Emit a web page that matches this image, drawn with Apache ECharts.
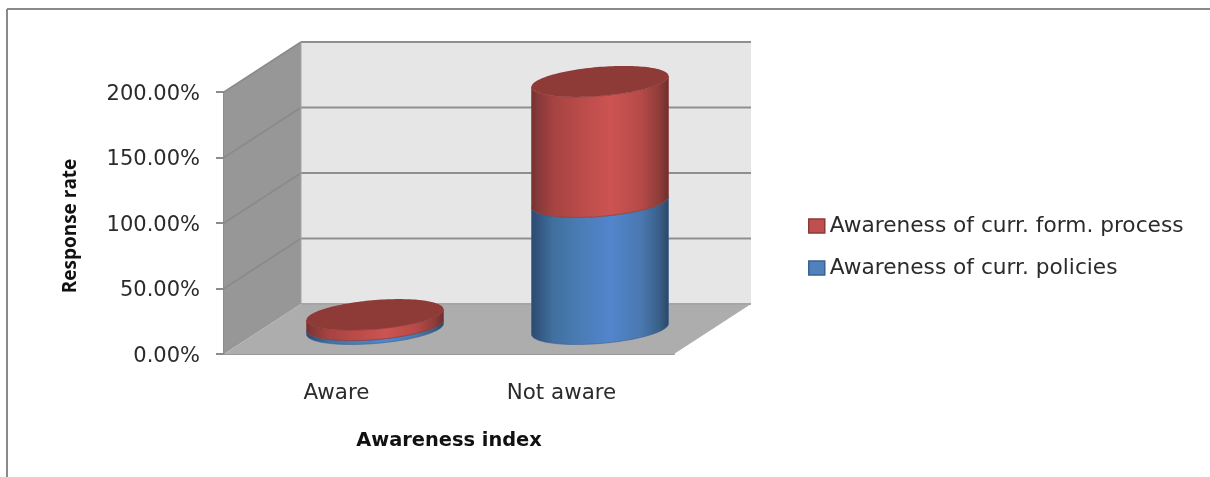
<!DOCTYPE html>
<html>
<head>
<meta charset="utf-8">
<style>html,body{margin:0;padding:0;background:#fff}#chart{width:1210px;height:477px}</style>
<script src="https://cdn.jsdelivr.net/npm/echarts@6/dist/echarts.min.js"></script>
</head>
<body>
<div id="chart"></div>
<script>
// Stacked cylinder chart of awareness responses, in an oblique 3D box.
const categories = ['Aware', 'Not aware'];
const yTicks = [0, 50, 100, 150, 200];
const seriesPolicies = [3, 97];
const seriesFormation = [8, 92];
const namePolicies = 'Awareness of curr. policies';
const nameFormation = 'Awareness of curr. form. process';

// Oblique projection of the box depth, in pixels.
const DEPTH_X = 77, DEPTH_Y = -50;
// Cylinder footprint: half width along x and fraction of the box depth.
const RADIUS_X = 64.2, DEPTH_FRACTION = 0.31;

const chart = echarts.init(document.getElementById('chart'), null, { renderer: 'canvas' });

function poly(points, fill, z2) {
  return { type: 'polygon', shape: { points }, style: { fill }, z2: z2 || 0 };
}
function seg(x1, y1, x2, y2, stroke, w) {
  return { type: 'line', shape: { x1, y1, x2, y2 }, style: { stroke, lineWidth: w }, z2: 2 };
}

// Walls, floor and gridlines, positioned from the value axis.
function renderBox(params, api) {
  const c = params.coordSys;
  const x0 = c.x, x1 = c.x + c.width;
  const yBase = api.coord([0, 0])[1];
  const yTop = api.coord([0, 200])[1];
  const els = [
    poly([[x0 + DEPTH_X, yTop + DEPTH_Y], [x1 + DEPTH_X, yTop + DEPTH_Y], [x1 + DEPTH_X, yBase + DEPTH_Y], [x0 + DEPTH_X, yBase + DEPTH_Y]], '#e6e6e6'),
    poly([[x0, yTop], [x0 + DEPTH_X, yTop + DEPTH_Y], [x0 + DEPTH_X, yBase + DEPTH_Y], [x0, yBase]], '#979797'),
    poly([[x0, yBase], [x0 + DEPTH_X, yBase + DEPTH_Y], [x1 + DEPTH_X, yBase + DEPTH_Y], [x1, yBase]], '#adadad')
  ];
  yTicks.forEach(function (t) {
    const y = api.coord([0, t])[1];
    if (t > 0) {
      els.push(seg(x0 + DEPTH_X, y + DEPTH_Y, x1 + DEPTH_X, y + DEPTH_Y, '#8f8f8f', 2));
      els.push(seg(x0, y, x0 + DEPTH_X, y + DEPTH_Y, '#8a8a8a', 1.5));
    } else {
      els.push(seg(x0 + DEPTH_X, y + DEPTH_Y, x1 + DEPTH_X, y + DEPTH_Y, '#a6a6a6', 2));
    }
  });
  els.push(seg(x0 + DEPTH_X, yTop + DEPTH_Y, x0 + DEPTH_X, yBase + DEPTH_Y, '#a3a3a3', 1));
  return { type: 'group', children: els };
}

// Point on the cylinder's elliptical cross-section at parameter t.
function ringPoint(cx, cy, t) {
  const dx = DEPTH_X * DEPTH_FRACTION, dy = DEPTH_Y * DEPTH_FRACTION;
  return [cx + RADIUS_X * Math.cos(t) + dx * Math.sin(t), cy + dy * Math.sin(t)];
}

function makeCylinderRenderer(stops, capColor, edgeColor) {
  return function (params, api) {
    const centre = api.coord([api.value(0), 0]);
    const cx = centre[0] + DEPTH_X / 2;
    const lift = DEPTH_Y / 2;
    const yLow = api.coord([api.value(0), api.value(1)])[1] + lift;
    const yHigh = api.coord([api.value(0), api.value(2)])[1] + lift;
    const t0 = Math.atan2(DEPTH_X * DEPTH_FRACTION, RADIUS_X);
    const N = 72;
    const body = [];
    // Front half of the lower ring, right to left, then of the upper ring back again.
    for (let i = 0; i <= N; i++) body.push(ringPoint(cx, yLow, t0 - Math.PI * i / N));
    for (let i = N; i >= 0; i--) body.push(ringPoint(cx, yHigh, t0 - Math.PI * i / N));
    const children = [{
      type: 'polygon',
      shape: { points: body },
      style: {
        fill: new echarts.graphic.LinearGradient(0, 0, 1, 0, stops),
        stroke: edgeColor, lineWidth: 0.6
      }
    }];
    if (capColor) {
      const cap = [];
      for (let i = 0; i < 2 * N; i++) cap.push(ringPoint(cx, yHigh, Math.PI * i / N));
      children.push({ type: 'polygon', shape: { points: cap }, style: { fill: capColor }, z2: 3 });
    }
    return { type: 'group', children };
  };
}

const blueStops = [
  { offset: 0, color: '#2b4a70' }, { offset: 0.05, color: '#32557f' }, { offset: 0.16, color: '#41709f' },
  { offset: 0.35, color: '#4a7cb5' }, { offset: 0.58, color: '#5285cc' }, { offset: 0.8, color: '#4a78b0' },
  { offset: 0.93, color: '#3a6088' }, { offset: 1, color: '#2a4665' }
];
const redStops = [
  { offset: 0, color: '#743230' }, { offset: 0.05, color: '#87393a' }, { offset: 0.16, color: '#a64341' },
  { offset: 0.35, color: '#b94b49' }, { offset: 0.58, color: '#cc5452' }, { offset: 0.8, color: '#b54a48' },
  { offset: 0.93, color: '#8f3c3a' }, { offset: 1, color: '#6d2e2c' }
];

const lowerData = categories.map((c, i) => [i, 0, seriesPolicies[i]]);
const upperData = categories.map((c, i) => [i, seriesPolicies[i], seriesPolicies[i] + seriesFormation[i]]);

const textFont = '"DejaVu Sans"';

chart.setOption({
  animation: false,
  backgroundColor: '#ffffff',
  grid: { left: 224, top: 92, width: 450, height: 262, containLabel: false },
  graphic: [
    { type: 'line', silent: true, shape: { x1: 7, y1: 9, x2: 1210, y2: 9 }, style: { stroke: '#8a8a8a', lineWidth: 2 } },
    { type: 'line', silent: true, shape: { x1: 7, y1: 9, x2: 7, y2: 477 }, style: { stroke: '#8a8a8a', lineWidth: 2 } }
  ],
  legend: {
    left: 808, top: 215, padding: 0, orient: 'vertical', itemWidth: 16, itemHeight: 14, itemGap: 20, icon: 'rect',
    selectedMode: false,
    textStyle: { fontFamily: textFont, fontSize: 21.7, color: '#2b2b2b', padding: [0, 0, 0, 0] },
    data: [
      { name: nameFormation, itemStyle: { color: '#c0504d', borderColor: '#8c3a38', borderWidth: 1.5 } },
      { name: namePolicies, itemStyle: { color: '#4f81bd', borderColor: '#3a6290', borderWidth: 1.5 } }
    ]
  },
  xAxis: {
    type: 'category', data: categories,
    axisLine: { show: true, lineStyle: { color: '#9a9a9a', width: 2 } },
    axisTick: { show: false },
    axisLabel: { margin: 29, fontFamily: textFont, fontSize: 21.4, color: '#2b2b2b' },
    name: 'Awareness index', nameLocation: 'middle', nameGap: 77,
    nameTextStyle: { fontFamily: textFont, fontSize: 19.4, fontWeight: 'bold', color: '#111' }
  },
  yAxis: {
    type: 'value', min: 0, max: 200, interval: 50,
    splitLine: { show: false },
    axisLine: { show: true, lineStyle: { color: '#8c8c8c', width: 2 } },
    axisTick: { show: true, length: 8, lineStyle: { color: '#8c8c8c', width: 2 } },
    axisLabel: {
      margin: 24,
      formatter: function (v) { return '{tick|' + v.toFixed(2) + '%}'; },
      rich: { tick: { fontFamily: textFont, fontSize: 21, color: '#2b2b2b', padding: [5, 0, 0, 0] } }
    },
    name: 'Response rate', nameLocation: 'middle', nameGap: 144, nameRotate: 90,
    nameTextStyle: { fontFamily: '"Open Sans"', fontSize: 19, fontWeight: 'bold', color: '#111', padding: [0, 6, 0, 0] }
  },
  series: [
    { type: 'custom', silent: true, z: 1, legendHoverLink: false, renderItem: renderBox, data: [[0, 0]], encode: { x: 0, y: 1 } },
    {
      type: 'custom', name: namePolicies, z: 3, silent: true,
      itemStyle: { color: '#4f81bd' },
      renderItem: makeCylinderRenderer(blueStops, null, '#3a6290'),
      data: lowerData, encode: { x: 0, y: [1, 2] }
    },
    {
      type: 'custom', name: nameFormation, z: 4, silent: true,
      itemStyle: { color: '#c0504d' },
      renderItem: makeCylinderRenderer(redStops, '#8e3a37', '#8a3735'),
      data: upperData, encode: { x: 0, y: [1, 2] }
    }
  ]
});
</script>
</body>
</html>
